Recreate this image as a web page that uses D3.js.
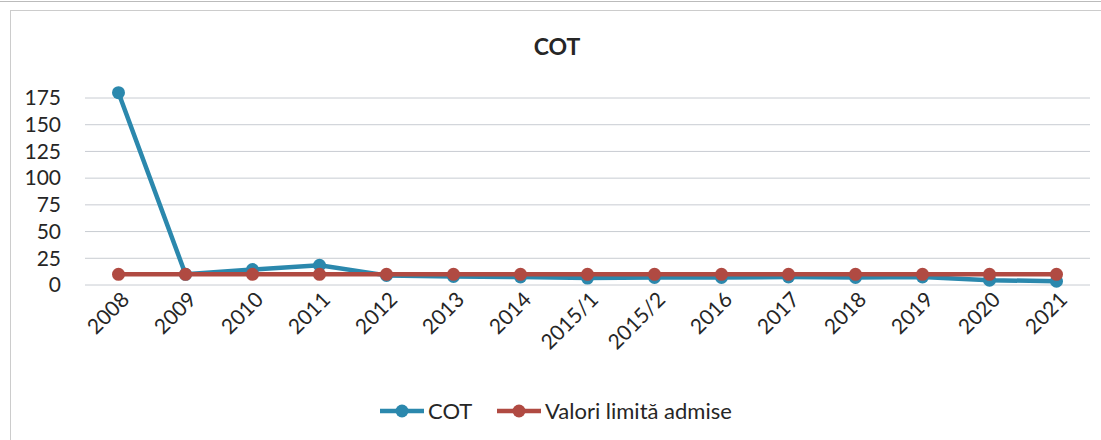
<!DOCTYPE html>
<html>
<head>
<meta charset="utf-8">
<script src="https://cdn.jsdelivr.net/npm/d3@7/dist/d3.min.js"></script>
<style>
  body { margin: 0; background: #fff; }
  svg text { font-family: Lato, "Open Sans", sans-serif; fill: #262626; }
</style>
</head>
<body>
<svg width="1101" height="440"></svg>
<script>
const years = ['2008', '2009', '2010', '2011', '2012', '2013', '2014', '2015/1', '2015/2', '2016', '2017', '2018', '2019', '2020', '2021'];
const cot = [180, 10, 14.5, 18.5, 9, 8, 7.5, 6.5, 7, 7, 7.5, 7, 7.5, 4.5, 3.5];
const limit = [10, 10, 10, 10, 10, 10, 10, 10, 10, 10, 10, 10, 10, 10, 10];
const yTicks = [0, 25, 50, 75, 100, 125, 150, 175];

const BLUE = '#2b88ad';
const RED = '#b04a42';

const svg = d3.select('svg');

// outer chart frame
svg.append('line')
  .attr('x1', 0).attr('x2', 1101).attr('y1', 1.5).attr('y2', 1.5)
  .attr('stroke', '#bbb');
svg.append('rect')
  .attr('x', 10.5).attr('y', 10.5)
  .attr('width', 1100).attr('height', 440)
  .attr('fill', 'none').attr('stroke', '#ccc');

const x = d3.scaleBand().domain(years).range([85, 1090]);
const y = d3.scaleLinear().domain([0, 175]).range([285, 98]);

// gridlines
svg.append('g')
  .selectAll('line')
  .data(yTicks)
  .enter()
  .append('line')
  .attr('x1', 85).attr('x2', 1090)
  .attr('y1', d => y(d)).attr('y2', d => y(d))
  .attr('stroke', '#c8ccd2').attr('stroke-width', 1);

// y axis labels
const yAxis = svg.append('g')
  .attr('transform', 'translate(61,0)')
  .call(d3.axisLeft(y).tickValues(yTicks).tickSize(0).tickPadding(0));
yAxis.select('.domain').remove();
yAxis.selectAll('text')
  .attr('font-size', 21)
  .attr('fill', '#262626')
  .style('font-family', 'Lato, sans-serif');

// x axis labels rotated
const xAxis = svg.append('g')
  .attr('transform', 'translate(0,285)')
  .call(d3.axisBottom(x).tickSize(0).tickPadding(0));
xAxis.select('.domain').remove();
xAxis.selectAll('text')
  .attr('font-size', 21)
  .attr('fill', '#262626')
  .style('font-family', 'Lato, sans-serif')
  .attr('text-anchor', 'end')
  .attr('dy', 0)
  .attr('transform', 'translate(12,16) rotate(-45)');

// title
svg.append('text')
  .attr('x', 557).attr('y', 55)
  .attr('text-anchor', 'middle')
  .attr('font-size', 23)
  .attr('font-weight', 'bold')
  .text('COT');

const line = d3.line()
  .x((d, i) => x(years[i]) + x.bandwidth() / 2)
  .y(d => y(d));

function drawSeries(values, color) {
  svg.append('path')
    .datum(values)
    .attr('d', line)
    .attr('fill', 'none')
    .attr('stroke', color)
    .attr('stroke-width', 4.5)
    .attr('stroke-linejoin', 'round');
  svg.append('g')
    .selectAll('circle')
    .data(values)
    .enter()
    .append('circle')
    .attr('cx', (d, i) => x(years[i]) + x.bandwidth() / 2)
    .attr('cy', d => y(d))
    .attr('r', 6.5)
    .attr('fill', color);
}

drawSeries(cot, BLUE);
drawSeries(limit, RED);

// legend
const legend = [
  {name: 'COT', color: BLUE, x: 380},
  {name: 'Valori limită admise', color: RED, x: 497},
];
const lg = svg.append('g').selectAll('g')
  .data(legend)
  .enter()
  .append('g')
  .attr('transform', d => `translate(${d.x},411)`);
lg.append('line')
  .attr('x1', 0).attr('x2', 44)
  .attr('stroke', d => d.color).attr('stroke-width', 4.5);
lg.append('circle')
  .attr('cx', 22).attr('r', 6.5)
  .attr('fill', d => d.color);
lg.append('text')
  .attr('x', 48).attr('dy', '0.35em')
  .attr('font-size', 22)
  .text(d => d.name);
</script>
</body>
</html>
